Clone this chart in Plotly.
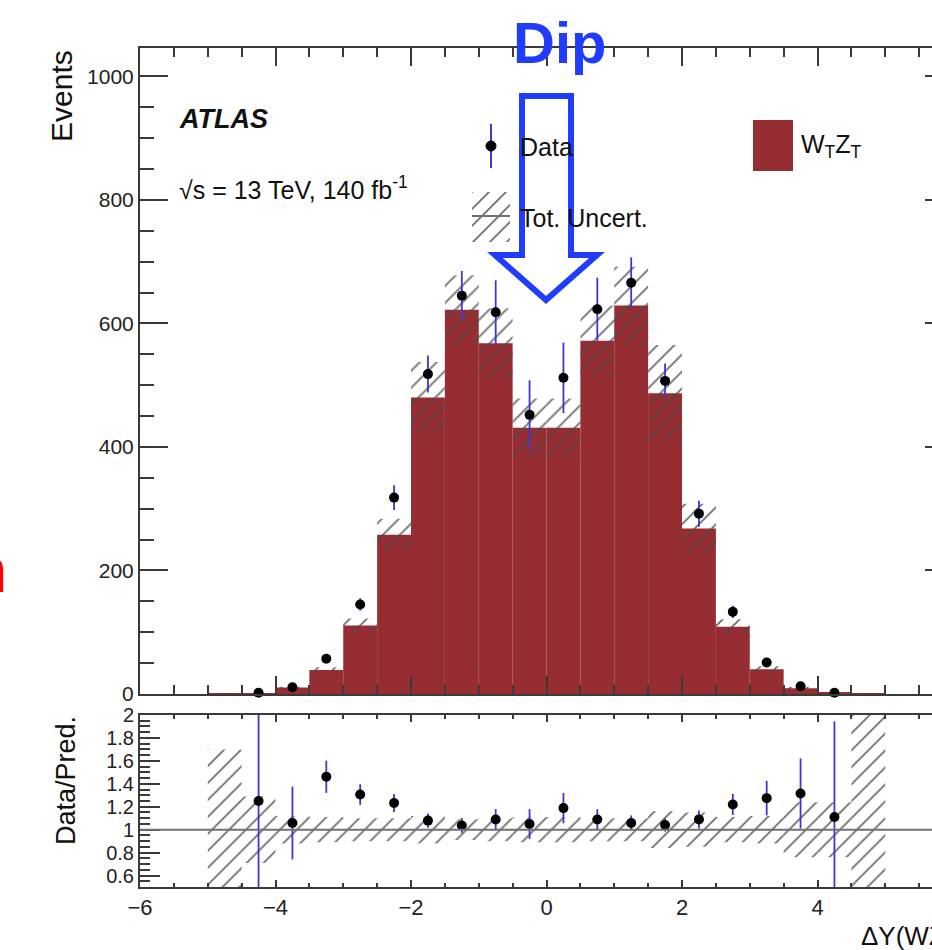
import plotly.graph_objects as go

# Delta Y(WZ) binning: 20 bins of width 0.5 between -5 and 5
bin_centers = [-4.75, -4.25, -3.75, -3.25, -2.75, -2.25, -1.75, -1.25, -0.75, -0.25,
               0.25, 0.75, 1.25, 1.75, 2.25, 2.75, 3.25, 3.75, 4.25, 4.75]
bin_width = 0.5

# W_T Z_T prediction (events per bin)
pred_wtzt = [0.4, 1.6, 10.4, 39, 111, 258, 480, 622, 568, 431,
             431, 572, 629, 487, 268, 109, 40, 9.5, 1.8, 0.4]

# relative total uncertainty on the prediction
rel_uncert = [0.70, 0.29, 0.12, 0.11, 0.10, 0.10, 0.12, 0.09, 0.10, 0.11,
              0.11, 0.10, 0.10, 0.16, 0.15, 0.11, 0.12, 0.24, 0.24, 1.50]

# observed data and its uncertainty (None = empty bin)
data_obs = [None, 2.0, 11, 57, 145, 318, 518, 645, 618, 452,
            512, 623, 666, 507, 292, 133, 51, 12.5, 2.0, None]
data_err = [None, 1.5, 3.3, 5.5, 10, 20, 30, 40, 52, 56,
            57, 51, 41, 28, 21, 10, 6, 2.9, 1.5, None]

# axis ranges and tick labels
x_range = [-6, 6]
events_range = [0, 1046]
ratio_range = [0.5, 2.0]
ratio_tickvals = [0.6, 0.8, 1.0, 1.2, 1.4, 1.6, 1.8, 2.0]
ratio_ticktext = ["0.6", "0.8", "1", "1.2", "1.4", "1.6", "1.8", "2"]

FONT = "Liberation Sans, Arial, Helvetica, sans-serif"
RED = "#962d33"
HATCH = "#4a4a4a"
FRAME = "#3a3a3a"
BLUE_ERR = "#3a3ad0"
ANNOT_BLUE = "#1f3cff"

# page geometry (pixels)
W, H = 980, 950
L, R, T, B = 140, 953, 48, 887


def px(x):
    return (x - L) / (R - L)


def py(y):
    return (B - y) / (B - T)


# derived quantities
band_base = [p * (1 - r) for p, r in zip(pred_wtzt, rel_uncert)]
band_height = [2 * p * r for p, r in zip(pred_wtzt, rel_uncert)]
ratio_base = [1 - r for r in rel_uncert]
ratio_height = [2 * r for r in rel_uncert]

pts_x, pts_y, pts_e, rat_y, rat_e = [], [], [], [], []
for c, d, e, p in zip(bin_centers, data_obs, data_err, pred_wtzt):
    if d is None:
        continue
    pts_x.append(c)
    pts_y.append(d)
    pts_e.append(e)
    rat_y.append(d / p)
    rat_e.append(e / p)

hatch = dict(shape="/", fgcolor=HATCH, bgcolor="rgba(0,0,0,0)", size=12,
             solidity=0.15, fgopacity=0.8)

fig = go.Figure()

# prediction histogram
fig.add_trace(go.Bar(x=bin_centers, y=pred_wtzt, width=bin_width,
                     marker=dict(color=RED, line=dict(width=0)),
                     xaxis="x", yaxis="y", hoverinfo="skip", showlegend=False))
# total uncertainty band
fig.add_trace(go.Bar(x=bin_centers, y=band_height, base=band_base, width=bin_width,
                     marker=dict(color="rgba(0,0,0,0)", line=dict(width=0), pattern=hatch),
                     xaxis="x", yaxis="y", hoverinfo="skip", showlegend=False))
# data points
fig.add_trace(go.Scatter(x=pts_x, y=pts_y, mode="markers",
                         marker=dict(color="black", size=10),
                         error_y=dict(type="data", array=pts_e, color=BLUE_ERR,
                                      thickness=1.8, width=0),
                         cliponaxis=False, xaxis="x", yaxis="y",
                         hoverinfo="skip", showlegend=False))

# ratio panel: uncertainty band and data / prediction
fig.add_trace(go.Bar(x=bin_centers, y=ratio_height, base=ratio_base, width=bin_width,
                     marker=dict(color="rgba(0,0,0,0)", line=dict(width=0), pattern=hatch),
                     xaxis="x2", yaxis="y2", hoverinfo="skip", showlegend=False))
fig.add_trace(go.Scatter(x=pts_x, y=rat_y, mode="markers",
                         marker=dict(color="black", size=10),
                         error_y=dict(type="data", array=rat_e, color=BLUE_ERR,
                                      thickness=1.8, width=0),
                         xaxis="x2", yaxis="y2", hoverinfo="skip", showlegend=False))

# legend swatch for the uncertainty hatch
fig.add_trace(go.Bar(x=[0.5], y=[1], width=1,
                     marker=dict(color="rgba(0,0,0,0)", line=dict(width=0), pattern=hatch),
                     xaxis="x3", yaxis="y3", hoverinfo="skip", showlegend=False))

tickfont = dict(family=FONT, size=21, color="#222")

common_x = dict(range=x_range, showline=True, linewidth=2, linecolor=FRAME,
                mirror="ticks", ticks="inside", tickwidth=2, tickcolor=FRAME,
                dtick=2, tick0=0, showgrid=False, zeroline=False)

fig.update_layout(
    width=W, height=H,
    margin=dict(l=L, r=W - R, t=T, b=H - B, pad=0),
    paper_bgcolor="white", plot_bgcolor="white",
    barmode="overlay",
    xaxis=dict(**common_x, domain=[0, 1], anchor="y", showticklabels=False, ticklen=18,
               minor=dict(ticks="inside", ticklen=9, tickwidth=1.5, tickcolor=FRAME,
                          dtick=0.5, tick0=0, showgrid=False)),
    yaxis=dict(range=events_range, domain=[py(694), 1], anchor="x",
               showline=True, linewidth=2, linecolor=FRAME, mirror="ticks",
               ticks="inside", ticklen=28, tickwidth=2, tickcolor=FRAME,
               dtick=200, tick0=0, tickfont=tickfont, showgrid=False, zeroline=False,
               minor=dict(ticks="inside", ticklen=14, tickwidth=1.5, tickcolor=FRAME,
                          dtick=50, tick0=0, showgrid=False)),
    xaxis2=dict(**common_x, domain=[0, 1], anchor="y2", ticklen=7, showticklabels=True,
                tickfont=dict(family=FONT, size=22, color="#222"),
                minor=dict(ticks="inside", ticklen=4, tickwidth=1.5, tickcolor=FRAME,
                           dtick=0.5, tick0=0, showgrid=False)),
    yaxis2=dict(range=ratio_range, domain=[0, py(715)], anchor="x2",
                showline=True, linewidth=2, linecolor=FRAME, mirror="ticks",
                ticks="inside", ticklen=20, tickwidth=2, tickcolor=FRAME,
                tickmode="array", tickvals=ratio_tickvals, ticktext=ratio_ticktext,
                tickfont=dict(family=FONT, size=20, color="#222"),
                showgrid=False, zeroline=False,
                minor=dict(ticks="inside", ticklen=10, tickwidth=1.5, tickcolor=FRAME,
                           tickmode="linear", dtick=0.05, tick0=0, showgrid=False)),
    xaxis3=dict(range=[0, 1], domain=[px(472), px(510)], anchor="y3", visible=False),
    yaxis3=dict(range=[0, 1], domain=[py(242), py(192)], anchor="x3", visible=False),
)

shapes = [
    # unity line in the ratio panel
    dict(type="line", xref="x2 domain", yref="y2", x0=0, x1=1, y0=1, y1=1,
         line=dict(color="#707070", width=2)),
    # legend: data marker with error bar
    dict(type="line", xref="paper", yref="paper", x0=px(491), x1=px(491),
         y0=py(168), y1=py(124), line=dict(color=BLUE_ERR, width=2)),
    dict(type="circle", xref="paper", yref="paper", x0=px(486), x1=px(496),
         y0=py(151), y1=py(141), fillcolor="black", line=dict(color="black", width=1)),
    # legend: uncertainty line
    dict(type="line", xref="paper", yref="paper", x0=px(472), x1=px(510),
         y0=py(216), y1=py(216), line=dict(color="#707070", width=2)),
    # legend: W_T Z_T box
    dict(type="rect", xref="paper", yref="paper", x0=px(753), x1=px(793),
         y0=py(171), y1=py(120), fillcolor=RED, line=dict(width=0)),
    # outlined arrow pointing at the dip
    dict(type="path", xref="paper", yref="paper",
         path="M {} {} L {} {} L {} {} L {} {} L {} {} L {} {} L {} {} Z".format(
             px(522), py(96), px(571), py(96), px(571), py(255), px(597), py(255),
             px(546), py(300), px(495), py(255), px(522), py(255)),
         line=dict(color=ANNOT_BLUE, width=6), fillcolor="rgba(0,0,0,0)"),
]
fig.update_layout(shapes=shapes)

def note(text, x, y, size, xanchor="left", yanchor="middle", color="#111",
         family=FONT, angle=0):
    fig.add_annotation(text=text, xref="paper", yref="paper", x=px(x), y=py(y),
                       xanchor=xanchor, yanchor=yanchor, showarrow=False,
                       textangle=angle, font=dict(family=family, size=size, color=color))

note("<b><i>ATLAS</i></b>", 177, 119, 27)
note("\u221as = 13 TeV, 140 fb<sup>-1</sup>", 177, 188, 25)
note("Data", 518, 147, 25)
note("Tot. Uncert.", 518, 218, 25)
note("W<sub>T</sub>Z<sub>T</sub>", 799, 146, 25)
note("Events", 62, 96, 30, xanchor="center", angle=-90)
note("Data/Pred.", 66, 781, 27, xanchor="center", angle=-90)
note("\u0394Y(WZ)", 955, 936, 26, xanchor="right")
note("<b>Dip</b>", 559, 42, 58, xanchor="center", color=ANNOT_BLUE)
note("<b>n</b>", 9, 570, 64, xanchor="right", color="#ff0000")

fig.write_html("out.html", post_script="document.body.style.overflow='hidden';")
